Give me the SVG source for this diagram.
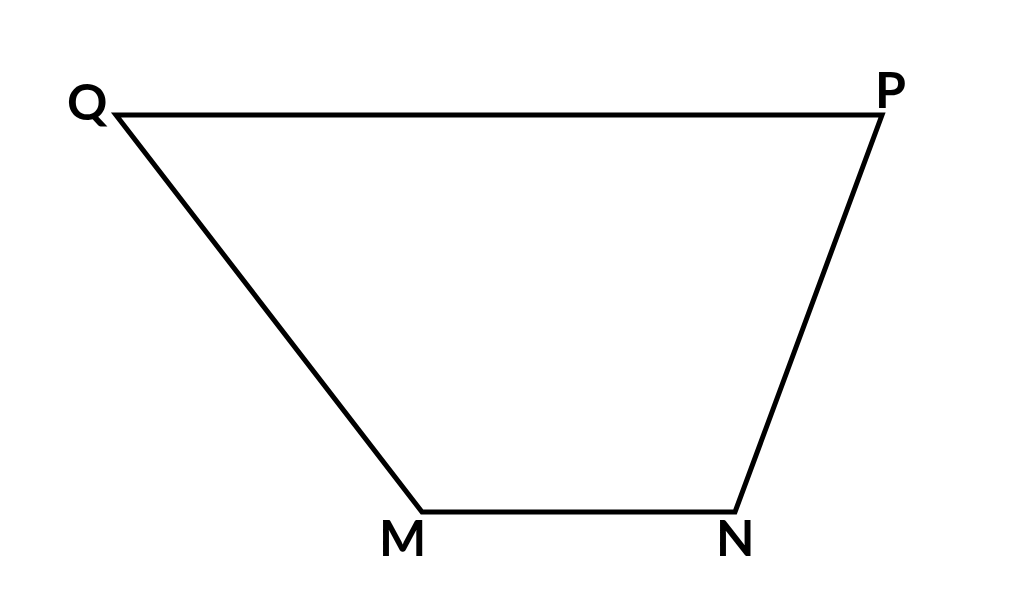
<svg xmlns="http://www.w3.org/2000/svg" width="1024" height="608" viewBox="0 0 1024 608">
<style>
.lbl{font-family:Lato,"Open Sans","Liberation Sans",sans-serif;font-weight:bold;font-size:50px;fill:#000}
.edge{fill:none;stroke:#000;stroke-width:5;stroke-linejoin:miter}
</style>
<rect width="1024" height="608" fill="#fff"/>
<g id="connectors">
<polygon class="edge" points="116,115 882,115 735,512 422,512"/>
</g>
<g id="node-Q"><text class="lbl" x="67" y="120">Q</text></g>
<g id="node-P"><text class="lbl" x="875" y="108">P</text></g>
<g id="node-M"><text class="lbl" x="379" y="556">M</text></g>
<g id="node-N"><text class="lbl" x="716" y="556">N</text></g>
</svg>
